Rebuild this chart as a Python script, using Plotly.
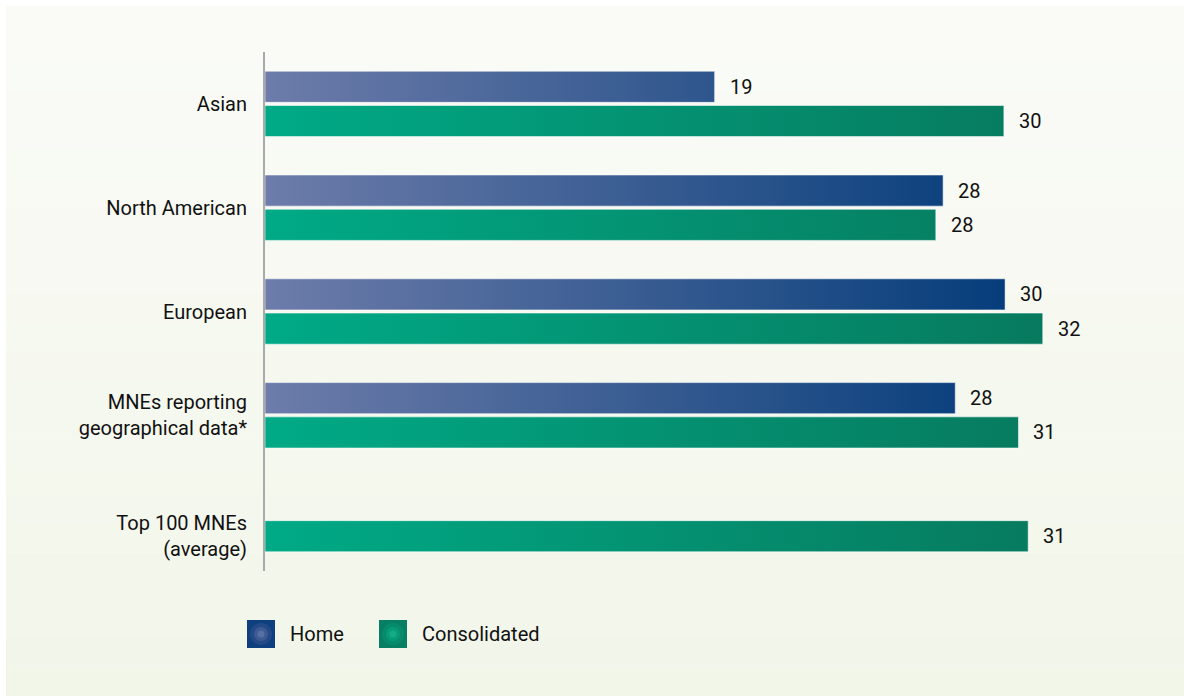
import plotly.graph_objects as go

# ---- data ----
categories = ["Asian", "North American", "European",
              "MNEs reporting<br>geographical data*", "Top 100 MNEs<br>(average)"]
home_values = [18.5, 27.9, 30.45, 28.4, None]
home_labels = ["19", "28", "30", "28", None]
cons_values = [30.4, 27.6, 32.0, 31.0, 31.4]
cons_labels = ["30", "28", "32", "31", "31"]
series_names = ["Home", "Consolidated"]

# ---- layout constants ----
W, H = 1184, 696
L, R, T, B = 265, 44, 52, 125
PW, PH = W - L - R, H - T - B
FONT = "Roboto, Liberation Sans Narrow, DejaVu Sans Condensed, sans-serif"
FS = 20
TXT = "#111111"
HALF = 0.150
OFFS = {"Home": -0.165, "Consolidated": 0.165}
GRAD = {"Home": ["#6d7caa", "#003a78"], "Consolidated": ["#00aa86", "#077a5e"]}


def px_x(px):
    return (px - L) / PW


def px_y(py):
    return (H - B - py) / PH


fig = go.Figure()
annotations = []

for name, vals, labs in [("Home", home_values, home_labels),
                         ("Consolidated", cons_values, cons_labels)]:
    xs, ys = [], []
    for i, v in enumerate(vals):
        if v is None:
            continue
        c = i + OFFS[name]
        xs += [0, v, v, 0, 0, None]
        ys += [c - HALF, c - HALF, c + HALF, c + HALF, c - HALF, None]
        annotations.append(dict(x=v, y=c, xref="x", yref="y", text=labs[i],
                                showarrow=False, xanchor="left", xshift=13,
                                font=dict(family=FONT, size=FS, color=TXT)))
    fig.add_trace(go.Scatter(
        x=xs, y=ys, mode="lines", fill="toself", name=name,
        line=dict(color="rgba(255,255,255,0.55)", width=1),
        fillgradient=dict(type="horizontal",
                          colorscale=[[0, GRAD[name][0]], [1, GRAD[name][1]]],
                          start=0, stop=32),
        showlegend=False, hoverinfo="skip"))

# category tick positions: centred on the group, or on the single bar
tick_pos = [i if home_values[i] is not None else i + OFFS["Consolidated"]
            for i in range(len(categories))]

# background panel (vertical gradient approximated by stacked bands)
shapes = []
top_c = (250, 251, 247)
bot_c = (242, 246, 233)
N = 24
y0p, y1p = 6, 696
for k in range(N):
    t = k / (N - 1)
    col = tuple(round(top_c[j] + (bot_c[j] - top_c[j]) * t) for j in range(3))
    ya = y0p + (y1p - y0p) * k / N
    yb = y0p + (y1p - y0p) * (k + 1) / N
    shapes.append(dict(type="rect", xref="paper", yref="paper", layer="below",
                       x0=px_x(6), x1=px_x(1184), y0=px_y(yb + 0.5), y1=px_y(ya),
                       fillcolor="rgb(%d,%d,%d)" % col, line=dict(width=0)))

# legend swatches (radial look)
leg = [("Home", 247, ["#0f3f7e", "#284d89", "#435f96", "#5f74a6"]),
       ("Consolidated", 379, ["#067f62", "#06906f", "#08a07c", "#1aae8a"])]
for name, x0, cols in leg:
    shapes.append(dict(type="rect", xref="paper", yref="paper",
                       x0=px_x(x0), x1=px_x(x0 + 28), y0=px_y(648), y1=px_y(620),
                       fillcolor=cols[0], line=dict(width=0)))
    for r, col in zip([11, 7, 3.5], cols[1:]):
        cx, cy = x0 + 14, 634
        shapes.append(dict(type="circle", xref="paper", yref="paper",
                           x0=px_x(cx - r), x1=px_x(cx + r), y0=px_y(cy + r), y1=px_y(cy - r),
                           fillcolor=col, line=dict(width=0), opacity=0.8))
    annotations.append(dict(x=px_x(x0 + 41), y=px_y(634), xref="paper", yref="paper",
                            text=name, showarrow=False, xanchor="left", yanchor="middle",
                            font=dict(family=FONT, size=FS, color=TXT)))

fig.update_layout(
    width=W, height=H,
    margin=dict(l=L, r=R, t=T, b=B, autoexpand=False),
    paper_bgcolor="white", plot_bgcolor="rgba(0,0,0,0)",
    shapes=shapes, annotations=annotations,
    showlegend=False,
    xaxis=dict(range=[0, 36], visible=False, fixedrange=True),
    yaxis=dict(range=[4.5, -0.5], tickmode="array", tickvals=tick_pos,
               ticktext=categories, showgrid=False, zeroline=False,
               showline=True, linecolor="#a9a9a9", linewidth=2,
               ticks="", ticklabelstandoff=12,
               tickfont=dict(family=FONT, size=FS, color=TXT)),
)

fig.write_html("out.html")
